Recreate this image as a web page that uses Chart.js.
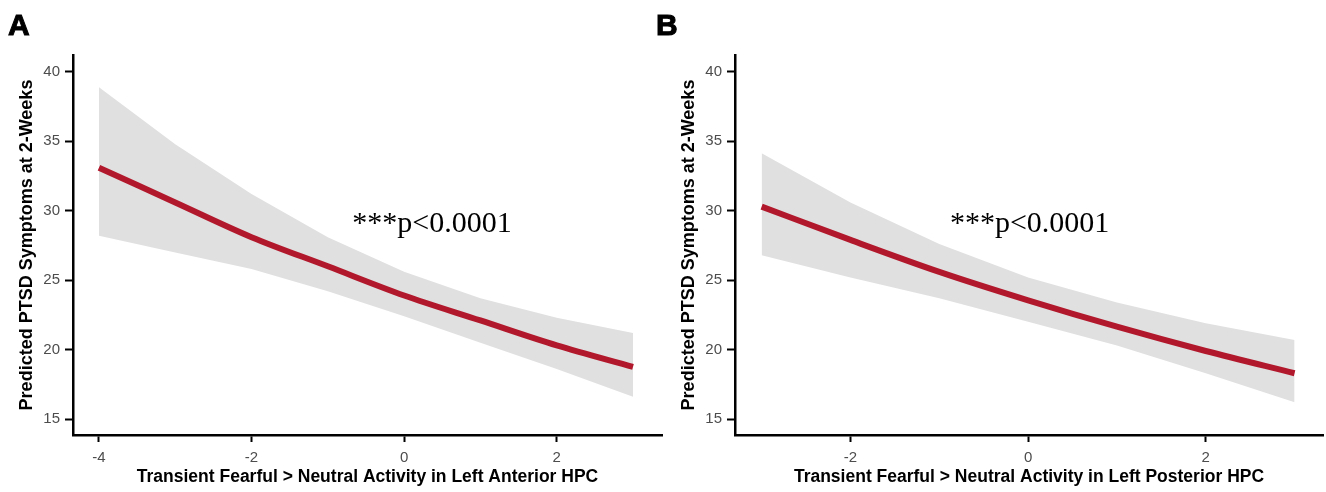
<!DOCTYPE html>
<html><head><meta charset="utf-8">
<script src="https://cdn.jsdelivr.net/npm/chart.js@4/dist/chart.umd.min.js"></script>
<style>
html,body{margin:0;padding:0;background:#fff;width:1326px;height:492px;overflow:hidden}
.panel{position:absolute;top:0;height:492px}
#pa{left:0;width:665px}
#pb{left:662px;width:664px}
.lab{position:absolute;font:bold 30px "Liberation Sans",Arial,sans-serif;color:#000;line-height:1;-webkit-text-stroke:1px #000}
</style></head><body>
<div class="panel" id="pa"><canvas id="ca" width="665" height="492"></canvas></div>
<div class="panel" id="pb"><canvas id="cb" width="664" height="492"></canvas></div>
<div class="lab" style="left:8px;top:10px">A</div>
<div class="lab" style="left:656px;top:10px">B</div>
<script>
// Panel A: Left Anterior HPC
const xA = [-4, -3, -2, -1, 0, 1, 2, 3];
const fitA = [33.1, 30.6, 28.1, 26.0, 23.9, 22.1, 20.3, 18.75];
const upperA = [38.9, 34.8, 31.2, 28.1, 25.6, 23.7, 22.3, 21.2];
const lowerA = [28.2, 27.0, 25.8, 24.2, 22.4, 20.5, 18.6, 16.6];
const xTicksA = [-4, -2, 0, 2];

// Panel B: Left Posterior HPC
const xB = [-3, -2, -1, 0, 1, 2, 3];
const fitB = [30.3, 27.9, 25.6, 23.55, 21.65, 19.9, 18.3];
const upperB = [34.15, 30.6, 27.6, 25.2, 23.4, 21.9, 20.7];
const lowerB = [26.8, 25.2, 23.7, 22.0, 20.3, 18.3, 16.2];
const xTicksB = [-2, 0, 2];

const yTicks = [15, 20, 25, 30, 35, 40];
const yTitle = 'Predicted PTSD Symptoms at 2-Weeks';
const xTitleA = 'Transient Fearful > Neutral Activity in Left Anterior HPC';
const xTitleB = 'Transient Fearful > Neutral Activity in Left Posterior HPC';
const note = '***p<0.0001';

const SANS = '"Liberation Sans", Arial, sans-serif';

function pts(xs, ys) { return xs.map((x, i) => ({x: x, y: ys[i]})); }

function makeChart(id, xs, fit, up, lo, xticks, xmin, xmax, xTitle, notePos) {
  const notePlugin = {
    id: 'note' + id,
    afterDatasetsDraw(chart) {
      const c = chart.ctx;
      c.save();
      c.font = '30px "Liberation Serif", "Times New Roman", serif';
      c.fillStyle = '#000';
      c.textBaseline = 'middle';
      c.textAlign = 'left';
      c.fillText(note, chart.scales.x.getPixelForValue(notePos[0]), chart.scales.y.getPixelForValue(notePos[1]));
      c.restore();
    }
  };
  return new Chart(document.getElementById(id), {
    type: 'line',
    data: {
      datasets: [
        {data: pts(xs, up), borderWidth: 0, pointRadius: 0, fill: '+1', backgroundColor: '#e0e0e0', tension: 0, order: 2},
        {data: pts(xs, lo), borderWidth: 0, pointRadius: 0, fill: false, tension: 0, order: 2},
        {data: pts(xs, fit), borderColor: '#b2182b', borderWidth: 6, pointRadius: 0, fill: false, cubicInterpolationMode: 'monotone', borderCapStyle: 'butt', order: 1}
      ]
    },
    options: {
      responsive: false,
      animation: false,
      layout: {padding: {top: 55, right: 3, bottom: 0, left: 0}},
      plugins: {legend: {display: false}, tooltip: {enabled: false}},
      scales: {
        x: {
          type: 'linear', min: xmin, max: xmax,
          border: {color: '#000', width: 2.5},
          grid: {drawOnChartArea: false, tickLength: 7, tickColor: '#000', tickWidth: 2},
          ticks: {color: '#4d4d4d', font: {size: 15, family: SANS}, padding: 7, maxRotation: 0, autoSkip: false},
          afterBuildTicks: s => { s.ticks = xticks.map(v => ({value: v})); },
          afterFit: s => { s.height = 57; },
          title: {display: true, text: xTitle, color: '#000', font: {size: 17.5, weight: 'bold', family: SANS}, padding: {top: 0, bottom: 4}}
        },
        y: {
          type: 'linear', min: 13.85, max: 41.22,
          border: {color: '#000', width: 2.5},
          grid: {drawOnChartArea: false, tickLength: 8, tickColor: '#000', tickWidth: 2},
          ticks: {color: '#4d4d4d', font: {size: 15, family: SANS}, padding: 5},
          afterBuildTicks: s => { s.ticks = yTicks.map(v => ({value: v})); },
          afterFit: s => { s.width = 73; },
          title: {display: true, text: yTitle, color: '#000', font: {size: 18, weight: 'bold', family: SANS}, padding: {top: 16, bottom: 0}}
        }
      }
    },
    plugins: [notePlugin]
  });
}

makeChart('ca', xA, fitA, upperA, lowerA, xTicksA, -4.34, 3.38, xTitleA, [-0.68, 29.05]);
makeChart('cb', xB, fitB, upperB, lowerB, xTicksB, -3.30, 3.32, xTitleB, [-0.88, 29.05]);
</script>
</body></html>
